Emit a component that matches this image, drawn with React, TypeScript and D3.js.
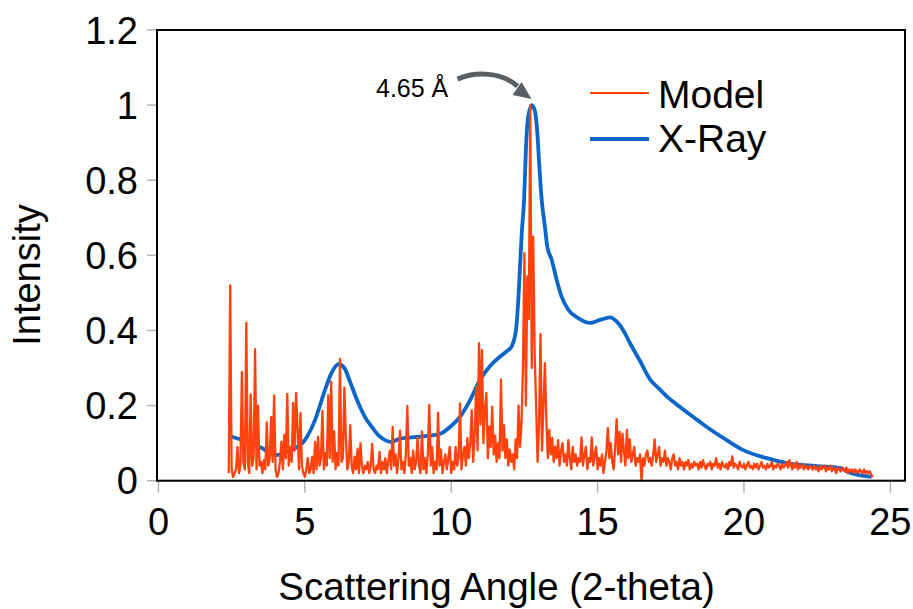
import React from "react";
import * as d3 from "d3";

const W = 913;
const H = 609;

const xTicks = [0, 5, 10, 15, 20, 25];
const yTicks = [0, 0.2, 0.4, 0.6, 0.8, 1, 1.2];
const yTickLabels = ["0", "0.2", "0.4", "0.6", "0.8", "1", "1.2"];

const seriesNames = ["Model", "X-Ray"];
const annotationText = "4.65 Å";
const peakPoint: [number, number] = [12.76, 1.0];

// Model: sampled every 0.05 starting at 2.40
const modelStart = 2.4;
const modelStep = 0.05;
const modelValues = [
  // 2.40 - 3.35
  0.02, 0.52, 0.03, 0.01, 0.02, 0.03, 0.09, 0.02, 0.04, 0.29, 0.05, 0.03, 0.42, 0.05, 0.02, 0.23, 0.04, 0.06, 0.35, 0.03,
  // 3.40 - 4.35
  0.2, 0.04, 0.05, 0.02, 0.055, 0.03, 0.155, 0.04, 0.06, 0.17, 0.05, 0.227, 0.03, 0.01, 0.02, 0.05, 0.104, 0.03, 0.122, 0.06,
  // 4.40 - 5.35
  0.231, 0.04, 0.09, 0.05, 0.207, 0.08, 0.234, 0.14, 0.03, 0.18, 0.04, 0.02, 0.01, 0.03, 0.06, 0.02, 0.03, 0.064, 0.02, 0.103,
  // 5.40 - 6.35
  0.03, 0.117, 0.04, 0.06, 0.186, 0.03, 0.074, 0.04, 0.228, 0.06, 0.264, 0.05, 0.131, 0.03, 0.074, 0.04, 0.324, 0.05, 0.06, 0.248,
  // 6.40 - 7.35
  0.117, 0.03, 0.05, 0.148, 0.04, 0.02, 0.064, 0.03, 0.085, 0.02, 0.1, 0.04, 0.02, 0.04, 0.03, 0.05, 0.02, 0.04, 0.098, 0.03,
  // 7.40 - 8.35
  0.02, 0.04, 0.03, 0.077, 0.02, 0.05, 0.03, 0.06, 0.02, 0.05, 0.08, 0.03, 0.143, 0.04, 0.07, 0.02, 0.06, 0.133, 0.03, 0.05,
  // 8.40 - 9.35
  0.02, 0.07, 0.199, 0.04, 0.06, 0.02, 0.08, 0.03, 0.05, 0.114, 0.04, 0.02, 0.131, 0.03, 0.06, 0.02, 0.07, 0.202, 0.04, 0.09,
  // 9.40 - 10.35
  0.02, 0.05, 0.03, 0.181, 0.04, 0.083, 0.02, 0.05, 0.07, 0.03, 0.06, 0.09, 0.02, 0.05, 0.03, 0.09, 0.04, 0.06, 0.206, 0.03,
  // 10.40 - 11.35
  0.07, 0.09, 0.04, 0.114, 0.06, 0.1, 0.188, 0.05, 0.12, 0.25, 0.08, 0.366, 0.15, 0.348, 0.1, 0.188, 0.234, 0.06, 0.144, 0.09,
  // 11.40 - 12.35
  0.197, 0.07, 0.12, 0.05, 0.1, 0.06, 0.27, 0.08, 0.148, 0.06, 0.11, 0.04, 0.083, 0.05, 0.07, 0.03, 0.11, 0.06, 0.2, 0.09,
  // 12.40 - 13.35
  0.15, 0.304, 0.606, 0.2, 0.544, 0.43, 1.0, 0.3, 0.65, 0.34, 0.2, 0.05, 0.15, 0.39, 0.08, 0.2, 0.313, 0.162, 0.06, 0.135,
  // 13.40 - 14.35
  0.07, 0.114, 0.05, 0.09, 0.06, 0.108, 0.04, 0.08, 0.1, 0.05, 0.07, 0.04, 0.108, 0.06, 0.03, 0.09, 0.05, 0.07, 0.04, 0.06,
  // 14.40 - 15.35
  0.05, 0.115, 0.04, 0.07, 0.09, 0.03, 0.06, 0.05, 0.115, 0.04, 0.07, 0.09, 0.03, 0.06, 0.04, 0.07, 0.02, 0.05, 0.08, 0.14,
  // 15.40 - 16.35
  0.06, 0.1, 0.05, 0.03, 0.09, 0.164, 0.07, 0.13, 0.05, 0.125, 0.08, 0.04, 0.135, 0.06, 0.11, 0.05, 0.07, 0.09, 0.04, 0.06,
  // 16.40 - 17.35
  0.05, 0.07, 0.0, 0.06, 0.04, 0.07, 0.08, 0.05, 0.06, 0.04, 0.07, 0.11, 0.05, 0.07, 0.09, 0.04, 0.06, 0.05, 0.08, 0.04,
  // 17.40 - 18.35
  0.06, 0.05, 0.03, 0.06, 0.07, 0.04, 0.05, 0.03, 0.06, 0.04, 0.05, 0.03, 0.05, 0.04, 0.055, 0.03, 0.045, 0.035, 0.05, 0.04,
  // 18.40 - 19.35
  0.045, 0.03, 0.05, 0.035, 0.055, 0.04, 0.03, 0.045, 0.04, 0.05, 0.03, 0.045, 0.04, 0.06, 0.035, 0.045, 0.03, 0.05, 0.04, 0.035,
  // 19.40 - 20.35
  0.045, 0.03, 0.05, 0.04, 0.065, 0.035, 0.045, 0.04, 0.03, 0.05, 0.04, 0.035, 0.045, 0.03, 0.04, 0.05, 0.035, 0.04, 0.03, 0.045,
  // 20.40 - 21.35
  0.035, 0.045, 0.03, 0.04, 0.05, 0.035, 0.04, 0.03, 0.045, 0.035, 0.04, 0.05, 0.03, 0.04, 0.035, 0.045, 0.04, 0.03, 0.045, 0.035,
  // 21.40 - 22.35
  0.04, 0.05, 0.035, 0.055, 0.04, 0.03, 0.045, 0.035, 0.05, 0.03, 0.04, 0.035, 0.045, 0.03, 0.04, 0.035, 0.03, 0.04, 0.035, 0.03,
  // 22.40 - 23.35
  0.04, 0.03, 0.035, 0.025, 0.04, 0.03, 0.035, 0.04, 0.025, 0.035, 0.03, 0.04, 0.025, 0.035, 0.03, 0.02, 0.035, 0.03, 0.025, 0.035,
  // 23.40 - 24.40
  0.03, 0.025, 0.035, 0.02, 0.03, 0.025, 0.03, 0.02, 0.03, 0.025, 0.02, 0.03, 0.025, 0.02, 0.03, 0.02, 0.025, 0.02, 0.025, 0.015, 0.01,
];

const xrayX = [
  2.41, 2.5, 3.07, 3.53, 3.98, 4.55, 5.0, 5.35, 5.69, 5.9, 6.15, 6.35, 6.55, 6.83, 7.05, 7.28, 7.5, 7.74, 7.95, 8.25,
  8.93, 9.62, 9.96, 10.3, 10.64, 10.98, 11.32, 11.66, 11.9, 12.06, 12.21, 12.29, 12.35, 12.41, 12.49, 12.55, 12.63, 12.75,
  12.86, 12.94, 13.01, 13.09, 13.2, 13.28, 13.43, 13.6, 13.77, 14.0, 14.34, 14.74, 15.08, 15.42, 15.65, 15.88, 16.08,
  16.44, 16.79, 17.1, 17.4, 17.75, 18.05, 18.4, 18.73, 19.41, 19.96, 20.78, 21.46, 22.48, 23.27, 23.55, 24.36,
];
const xrayY = [
  0.119, 0.117, 0.103, 0.087, 0.068, 0.082, 0.108, 0.162, 0.242, 0.285, 0.31, 0.3, 0.262, 0.206, 0.17, 0.144, 0.122, 0.108, 0.103, 0.112,
  0.117, 0.125, 0.143, 0.17, 0.214, 0.268, 0.305, 0.33, 0.345, 0.357, 0.4, 0.48, 0.57, 0.66, 0.75, 0.88, 0.97, 1.0,
  0.984, 0.927, 0.837, 0.748, 0.677, 0.624, 0.589, 0.535, 0.49, 0.455, 0.433, 0.42, 0.428, 0.435, 0.424, 0.4, 0.37,
  0.32, 0.27, 0.245, 0.222, 0.2, 0.182, 0.162, 0.143, 0.108, 0.082, 0.06, 0.047, 0.039, 0.034, 0.023, 0.01,
];

const colors = { model: "#ff420e", xray: "#0a66c8" };
const FONT = "'Liberation Sans', Arial, sans-serif";

export default function App() {
  const left = 157, right = 905, top = 30, bottom = 480.7;
  const x = d3.scaleLinear().domain([-0.05, 25.5]).range([left, right]);
  const y = d3.scaleLinear().domain([0, 1.2]).range([bottom, top]);

  const modelData: [number, number][] = modelValues.map((v, i) => [modelStart + i * modelStep, v]);
  const xrayData: [number, number][] = xrayX.map((v, i) => [v, xrayY[i]]);

  const modelLine = d3.line<[number, number]>().x((d) => x(d[0])).y((d) => y(d[1]));
  const xrayLine = d3
    .line<[number, number]>()
    .x((d) => x(d[0]))
    .y((d) => y(d[1]))
    .curve(d3.curveMonotoneX);

  const px = x(peakPoint[0]);
  const py = y(peakPoint[1]);
  const tipX = px - 0.5, tipY = py - 6;

  return (
    <svg width={W} height={H} style={{ display: "block", position: "absolute", left: 0, top: 0 }} fontFamily={FONT}>
      <rect x={0} y={0} width={W} height={H} fill="#fff" />
      {/* ticks */}
      {yTicks.map((t, i) => (
        <g key={"y" + i}>
          <line x1={left - 10} x2={left} y1={y(t)} y2={y(t)} stroke="#b3b3b3" strokeWidth={1.5} />
          <text x={left - 19} y={y(t)} dy="0.36em" textAnchor="end" fontSize={38} fill="#000">
            {yTickLabels[i]}
          </text>
        </g>
      ))}
      {xTicks.map((t, i) => (
        <g key={"x" + i}>
          <line x1={x(t)} x2={x(t)} y1={bottom} y2={bottom + 12} stroke="#b3b3b3" strokeWidth={1.5} />
          <text x={x(t)} y={535} textAnchor="middle" fontSize={38} fill="#000">
            {String(t)}
          </text>
        </g>
      ))}

      {/* series */}
      <path d={xrayLine(xrayData) || ""} fill="none" stroke={colors.xray} strokeWidth={3.8} strokeLinejoin="round" />
      <path d={modelLine(modelData) || ""} fill="none" stroke={colors.model} strokeWidth={2.3} strokeLinejoin="round" />

      {/* frame */}
      <rect x={left} y={top} width={right - left} height={bottom - top} fill="none" stroke="#000" strokeWidth={2} />

      {/* annotation */}
      <path
        d={`M${tipX - 74},${tipY - 20} C${tipX - 56},${tipY - 28} ${tipX - 30},${tipY - 27} ${tipX - 14},${tipY - 13}`}
        fill="none"
        stroke="#595e63"
        strokeWidth={5}
      />
      <path
        d={`M${tipX},${tipY} L${tipX - 10},${tipY - 17} L${tipX - 19},${tipY - 4} Z`}
        fill="#595e63"
      />
      <text x={376} y={96.5} fontSize={25} fill="#000">
        {annotationText}
      </text>

      {/* legend */}
      <line x1={590} x2={649} y1={93} y2={93} stroke={colors.model} strokeWidth={2} />
      <text x={658} y={107.5} fontSize={39} fill="#000">
        {seriesNames[0]}
      </text>
      <line x1={590} x2={649} y1={139} y2={139} stroke={colors.xray} strokeWidth={4} />
      <text x={658} y={152} fontSize={39} fill="#000">
        {seriesNames[1]}
      </text>

      {/* axis titles */}
      <text x={496.5} y={600} textAnchor="middle" fontSize={38.5} fill="#000">
        Scattering Angle (2-theta)
      </text>
      <text transform="translate(40,275) rotate(-90)" textAnchor="middle" fontSize={38} fill="#000">
        Intensity
      </text>
    </svg>
  );
}
